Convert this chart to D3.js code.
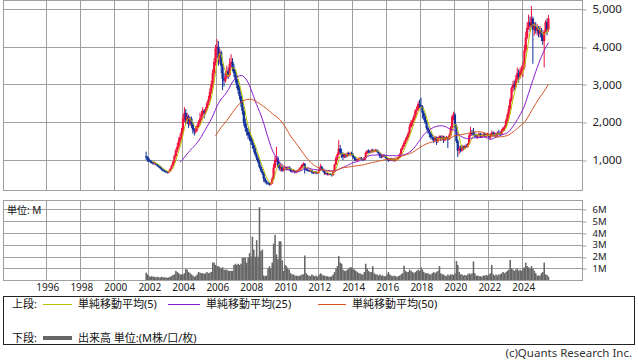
<!DOCTYPE html>
<html>
<head>
<meta charset="utf-8">
<script src="https://cdn.jsdelivr.net/npm/d3@7"></script>
<style>
body { margin: 0; background: #fff; }
text { font-family: "Noto Sans", "Noto Sans CJK JP", sans-serif; fill: #111; }
</style>
</head>
<body>
<div class="chart"></div>
<script>
// monthly candles, first bar = Nov 2001
var firstMonth = [2001, 10];

var open = [
  1100,1080,
  1020,980,950,930,900,920,880,850,820,780,740,720,
  700,690,670,700,760,850,950,1100,1250,1350,1500,1600,
  1750,2100,2250,2050,2150,1950,2100,1950,1800,1750,1800,1900,
  2000,2100,2200,2300,2250,2350,2500,2600,2800,3000,3300,3600,
  3950,4000,3700,3850,3500,3150,3100,3200,3350,3250,3550,3600,
  3450,3300,3150,3000,2850,2700,2500,2300,2000,1850,1750,1650,
  1600,1500,1400,1300,1150,1050,950,820,720,650,500,430,
  400,380,350,380,500,800,1000,1050,850,780,820,720,
  780,800,750,800,780,720,700,720,680,700,720,750,
  800,870,900,760,740,720,710,730,670,660,690,650,
  670,740,820,760,700,640,650,620,630,620,600,680,
  880,1050,1150,1300,1200,1150,1080,1150,1100,1180,1130,1170,
  1150,1080,1030,1000,1010,1040,1060,1020,1000,1060,1180,1240,
  1220,1200,1260,1230,1250,1260,1220,1180,1100,1080,1120,1100,
  1060,1010,990,1020,1000,1010,980,1010,1030,1070,1150,1290,
  1360,1450,1530,1610,1700,1880,1990,2050,2150,2300,2350,2480,
  2450,2420,2250,2150,2000,1850,1750,1700,1600,1580,1520,1600,
  1500,1580,1620,1560,1620,1520,1590,1600,1550,1650,1850,2150,
  2200,1900,1500,1250,1300,1250,1350,1300,1370,1350,1420,1650,
  1720,1700,1680,1650,1620,1650,1700,1620,1640,1690,1630,1650,
  1680,1600,1650,1720,1660,1700,1650,1720,1700,1680,1780,1850,
  1880,2050,2200,2350,2600,2900,3000,2950,3150,3300,3200,3350,
  3400,3450,3900,4250,4500,4650,4550,4750,4450,4550,4420,4500,
  4350,4450,4250,4150,4400,4650,4450
];
var high = [
  1220,1100,
  1060,1000,990,960,960,930,900,870,830,800,760,740,
  720,700,720,780,870,980,1150,1300,1450,1600,1700,1850,
  2200,2400,2350,2250,2200,2150,2150,2000,1850,1900,1950,2050,
  2250,2300,2400,2350,2400,2550,2700,2900,3100,3400,3700,4050,
  4200,4150,3950,3900,3550,3300,3350,3500,3450,3700,3800,3700,
  3550,3400,3250,3100,2950,2800,2600,2400,2100,1950,1850,1750,
  1650,1550,1450,1350,1200,1100,1000,870,760,680,540,460,
  430,400,420,560,900,1100,1350,1100,950,900,850,820,
  850,820,830,840,800,750,760,740,730,750,800,830,
  900,940,920,790,770,750,760,740,700,710,700,690,
  760,900,850,780,710,680,670,650,660,640,700,900,
  1100,1200,1530,1400,1300,1200,1180,1170,1200,1220,1200,1220,
  1180,1100,1060,1040,1060,1080,1080,1040,1080,1220,1270,1280,
  1260,1280,1300,1280,1290,1290,1250,1200,1150,1150,1150,1120,
  1080,1030,1050,1060,1040,1030,1030,1050,1090,1180,1320,1400,
  1500,1580,1650,1750,1950,2050,2100,2200,2350,2420,2550,2600,
  2650,2450,2300,2200,2050,1900,1800,1750,1680,1620,1640,1620,
  1620,1650,1650,1660,1640,1620,1640,1620,1700,1900,2200,2280,
  2250,1950,1550,1380,1380,1400,1380,1400,1420,1450,1700,1880,
  1800,1850,1750,1700,1680,1720,1720,1680,1720,1720,1700,1720,
  1700,1700,1780,1760,1740,1720,1760,1800,1760,1820,1880,1920,
  2100,2250,2450,2650,2950,3100,3100,3250,3450,3400,3450,3500,
  3600,4050,4400,4650,4850,4800,5080,4800,4650,4650,4600,4550,
  4550,4500,4350,4450,4700,4750,4840
];
var low = [
  1000,950,
  940,920,900,870,880,850,820,790,760,720,690,680,
  660,640,650,680,740,830,920,1050,1200,1300,1400,1550,
  1700,2000,1950,1950,1850,1900,1850,1700,1650,1700,1750,1850,
  1950,2050,2150,2100,2200,2300,2450,2550,2750,2900,3200,3500,
  3700,3500,3550,3300,2850,2950,3050,3150,3150,3200,3450,3350,
  3200,3050,2900,2750,2600,2400,2200,1900,1750,1650,1550,1500,
  1400,1300,1200,1100,1000,900,780,680,600,420,380,350,
  340,320,330,360,480,780,950,800,720,700,680,700,
  740,720,730,740,680,660,680,640,650,680,700,730,
  780,840,640,710,700,690,690,640,630,640,620,630,
  650,720,740,680,610,600,590,590,600,560,590,670,
  860,1000,1120,1150,1050,1000,1050,1050,1080,1100,1100,1120,
  1040,980,970,960,990,1010,1000,970,990,1000,1150,1180,
  1170,1190,1200,1200,1220,1200,1150,1050,1040,1060,1080,1040,
  980,950,970,980,970,950,960,990,1010,1060,1130,1260,
  1340,1420,1500,1580,1680,1850,1900,1980,2100,2200,2300,2380,
  2350,2100,2050,1950,1800,1700,1600,1550,1520,1450,1480,1400,
  1450,1550,1500,1540,1450,1500,1540,1320,1530,1620,1800,2050,
  1850,1450,1080,1150,1200,1220,1260,1280,1320,1330,1400,1620,
  1640,1650,1600,1580,1560,1620,1580,1580,1620,1600,1580,1620,
  1560,1560,1620,1620,1630,1600,1640,1680,1640,1660,1750,1780,
  1850,2000,2100,2300,2550,2800,2850,2900,3100,3050,3150,3250,
  3200,3400,3850,4200,4450,4400,4500,3550,4300,4350,4300,4250,
  4250,4150,4050,3450,4350,4300,4400
];
var close = [
  1080,1020,
  980,950,930,900,920,880,850,820,780,740,720,700,
  690,670,700,760,850,950,1100,1250,1350,1500,1600,1750,
  2100,2250,2050,2150,1950,2100,1950,1800,1750,1800,1900,2000,
  2100,2200,2300,2250,2350,2500,2600,2800,3000,3300,3600,3950,
  4000,3700,3850,3500,3150,3100,3200,3350,3250,3550,3600,3450,
  3300,3150,3000,2850,2700,2500,2300,2000,1850,1750,1650,1600,
  1500,1400,1300,1150,1050,950,820,720,650,500,430,400,
  380,350,380,500,800,1000,1050,850,780,820,720,780,
  800,750,800,780,720,700,720,680,700,720,750,800,
  870,900,760,740,720,710,730,670,660,690,650,670,
  740,820,760,700,640,650,620,630,620,600,680,880,
  1050,1150,1300,1200,1150,1080,1150,1100,1180,1130,1170,1150,
  1080,1030,1000,1010,1040,1060,1020,1000,1060,1180,1240,1220,
  1200,1260,1230,1250,1260,1220,1180,1100,1080,1120,1100,1060,
  1010,990,1020,1000,1010,980,1010,1030,1070,1150,1290,1360,
  1450,1530,1610,1700,1880,1990,2050,2150,2300,2350,2480,2450,
  2420,2250,2150,2000,1850,1750,1700,1600,1580,1520,1600,1500,
  1580,1620,1560,1620,1520,1590,1600,1550,1650,1850,2150,2200,
  1900,1500,1250,1300,1250,1350,1300,1370,1350,1420,1650,1720,
  1700,1680,1650,1620,1650,1700,1620,1640,1690,1630,1650,1680,
  1600,1650,1720,1660,1700,1650,1720,1700,1680,1780,1850,1880,
  2050,2200,2350,2600,2900,3000,2950,3150,3300,3200,3350,3400,
  3450,3900,4250,4500,4650,4550,4750,4450,4550,4420,4500,4350,
  4450,4250,4150,4400,4650,4450,4750
];
// volume in millions
var volume = [
  0.65,0.5,
  0.35,0.3,0.35,0.3,0.3,0.25,0.3,0.25,0.25,0.3,0.25,0.25,
  0.25,0.2,0.25,0.3,0.35,0.45,0.5,0.8,0.7,0.6,0.5,0.5,
  0.5,0.6,0.95,0.9,0.7,0.6,0.5,0.4,0.3,0.35,0.5,0.7,
  0.65,0.6,0.6,0.55,0.6,0.7,0.6,0.65,0.7,1.5,1.5,1.3,
  1.2,1.2,1.1,1.0,1.1,0.9,0.9,0.9,0.8,0.8,0.8,0.8,
  1.3,1.4,1.3,1.4,1.3,1.4,1.9,1.9,1.9,1.5,1.9,2.3,
  2.0,3.7,2.6,2.0,3.4,2.0,6.2,2.5,2.6,0.4,0.35,0.4,
  1.0,1.2,1.0,1.5,3.1,3.85,2.2,1.8,3.3,3.3,1.7,0.8,
  1.3,1.2,1.0,0.9,0.6,0.5,0.5,0.4,0.4,0.35,0.4,0.4,
  0.5,0.5,2.1,0.6,0.45,0.4,0.35,0.5,0.4,0.35,0.4,0.3,
  0.45,0.6,0.5,0.4,0.4,0.35,0.35,0.3,0.3,0.35,0.5,0.7,
  1.0,1.2,2.05,1.5,1.4,0.9,0.8,0.8,0.9,1.0,1.1,1.1,
  1.0,0.9,0.8,0.7,0.6,0.6,0.5,0.5,0.7,1.4,1.0,0.8,
  0.7,0.7,1.2,0.6,0.5,0.5,0.4,0.5,0.4,0.4,0.35,0.35,
  0.5,0.7,0.5,0.4,0.35,0.4,0.35,0.3,0.35,0.4,0.5,0.6,
  1.24,0.8,0.7,0.7,0.9,0.8,0.7,0.6,0.7,0.8,0.9,0.8,
  1.1,0.9,0.7,0.6,0.6,0.6,0.5,0.5,0.6,0.7,0.6,0.7,
  0.8,1.2,0.6,0.5,0.5,0.4,0.35,0.5,0.4,0.5,0.5,0.45,
  0.6,1.63,1.3,0.7,0.5,0.5,0.4,0.45,0.4,0.5,0.6,0.5,
  0.6,1.6,0.6,0.4,0.4,0.35,0.35,0.3,0.4,0.4,0.45,0.4,
  0.5,0.6,1.3,0.5,0.4,0.5,0.4,0.5,0.5,0.6,0.7,0.6,
  0.7,0.8,0.9,1.73,1.0,0.9,0.8,0.9,1.0,0.8,0.9,0.8,
  1.0,1.1,1.5,1.2,1.1,1.0,1.2,1.0,0.8,0.6,0.4,0.4,
  0.4,0.6,0.7,1.5,0.5,0.45,0.3
];

var priceTicks = [1000, 2000, 3000, 4000, 5000];
var volumeTicks = [1, 2, 3, 4, 5, 6];
var yearTicks = [1996, 1998, 2000, 2002, 2004, 2006, 2008, 2010, 2012, 2014, 2016, 2018, 2020, 2022, 2024];
var maPeriods = [5, 25, 50];
var maColors = ['#b8c000', '#8a1ccc', '#d8501c'];
var legendTop = ['単純移動平均(5)', '単純移動平均(25)', '単純移動平均(50)'];

var data = close.map(function(c, i) {
  return {
    date: new Date(firstMonth[0], firstMonth[1] + i, 15),
    o: open[i], h: high[i], l: low[i], c: c, v: volume[i]
  };
});

var svg = d3.select('.chart').append('svg')
  .attr('width', 638)
  .attr('height', 362);

var left = 3, right = 583;
var x = d3.scaleTime()
  .domain([new Date(1996, 0, 1), new Date(2024, 0, 1)])
  .range([46.3, 522.3]);
var y = d3.scaleLinear().domain([205, 5212]).range([190, 1]);
var yv = d3.scaleLinear().domain([0, 6.72]).range([280.3, 201]);

var gridColor = '#a0a0a0';
function crisp(v) { return Math.round(v) + 0.5; }

// clip
svg.append('clipPath').attr('id', 'clipTop').append('rect')
  .attr('x', left).attr('y', 1).attr('width', right - left).attr('height', 189);

// top panel grid
var topPanel = svg.append('g');
topPanel.selectAll('.vg').data(yearTicks).enter().append('line')
  .attr('x1', function(d) { return crisp(x(new Date(d, 0, 1))); })
  .attr('x2', function(d) { return crisp(x(new Date(d, 0, 1))); })
  .attr('y1', 1).attr('y2', 190)
  .style('stroke', gridColor);
topPanel.selectAll('.hg').data(priceTicks).enter().append('line')
  .attr('x1', left).attr('x2', right)
  .attr('y1', function(d) { return crisp(y(d)); })
  .attr('y2', function(d) { return crisp(y(d)); })
  .style('stroke', gridColor);
topPanel.append('rect')
  .attr('x', left + 0.5).attr('y', 0.5).attr('width', right - left - 1).attr('height', 190)
  .style('fill', 'none').style('stroke', gridColor);

var yAxis = svg.append('g')
  .attr('transform', 'translate(' + (right - 0.5) + ',0)')
  .call(d3.axisRight(y).tickValues(priceTicks).tickSize(4).tickPadding(6).tickFormat(d3.format(',')));
yAxis.select('.domain').remove();
yAxis.selectAll('line').attr('transform', function(d) { return 'translate(0,' + (crisp(y(d)) - y(d)) + ')'; })
  .style('stroke', gridColor);
yAxis.selectAll('text').style('font-size', '11.5px').style('fill', '#222');

// candles
var candles = svg.append('g').attr('clip-path', 'url(#clipTop)');
var bw = 2.2;
candles.selectAll('.wick').data(data).enter().append('line')
  .attr('x1', function(d) { return x(d.date); })
  .attr('x2', function(d) { return x(d.date); })
  .attr('y1', function(d) { return y(d.h); })
  .attr('y2', function(d) { return y(d.l); })
  .style('stroke', function(d) { return d.c >= d.o ? '#f0103c' : '#10309a'; })
  .style('stroke-width', 1);
candles.selectAll('.body').data(data).enter().append('rect')
  .attr('x', function(d) { return x(d.date) - bw / 2; })
  .attr('width', bw)
  .attr('y', function(d) { return y(Math.max(d.o, d.c)); })
  .attr('height', function(d) { return Math.max(1, Math.abs(y(d.o) - y(d.c))); })
  .style('fill', function(d) { return d.c >= d.o ? '#f0103c' : '#10309a'; });

// moving averages
maPeriods.forEach(function(n, k) {
  var pts = [];
  for (var i = n - 1; i < data.length; i++) {
    var s = 0;
    for (var j = i - n + 1; j <= i; j++) s += data[j].c;
    pts.push({ date: data[i].date, v: s / n });
  }
  candles.append('path')
    .datum(pts)
    .attr('d', d3.line().x(function(d) { return x(d.date); }).y(function(d) { return y(d.v); }))
    .style('fill', 'none')
    .style('stroke', maColors[k])
    .style('stroke-width', 1);
});

// volume panel
var vol = svg.append('g');
vol.selectAll('.vg').data(yearTicks).enter().append('line')
  .attr('x1', function(d) { return crisp(x(new Date(d, 0, 1))); })
  .attr('x2', function(d) { return crisp(x(new Date(d, 0, 1))); })
  .attr('y1', 201).attr('y2', 280)
  .style('stroke', gridColor);
vol.selectAll('.hg').data(volumeTicks).enter().append('line')
  .attr('x1', left).attr('x2', right)
  .attr('y1', function(d) { return crisp(yv(d)); })
  .attr('y2', function(d) { return crisp(yv(d)); })
  .style('stroke', gridColor);

var barW = x(new Date(2010, 1, 15)) - x(new Date(2010, 0, 15));
vol.selectAll('.bar').data(data).enter().append('rect')
  .attr('x', function(d) { return x(d.date) - barW / 2; })
  .attr('width', barW + 0.1)
  .attr('y', function(d) { return yv(d.v); })
  .attr('height', function(d) { return yv(0) - yv(d.v); })
  .style('fill', '#666');

vol.append('rect')
  .attr('x', left + 0.5).attr('y', 200.5).attr('width', right - left - 1).attr('height', 80)
  .style('fill', 'none').style('stroke', gridColor);

var vAxis = svg.append('g')
  .attr('transform', 'translate(' + (right - 0.5) + ',0)')
  .call(d3.axisRight(yv).tickValues(volumeTicks).tickSize(4).tickPadding(6).tickFormat(function(d) { return d + 'M'; }));
vAxis.select('.domain').remove();
vAxis.selectAll('line').attr('transform', function(d) { return 'translate(0,' + (crisp(yv(d)) - yv(d)) + ')'; })
  .style('stroke', gridColor);
vAxis.selectAll('text').style('font-size', '9.5px').style('fill', '#222');

svg.append('text').attr('x', 7).attr('y', 213.5)
  .style('font-size', '10px').text('単位: M');

// year labels
var xAxis = svg.append('g')
  .attr('transform', 'translate(1,280)')
  .call(d3.axisBottom(x).tickValues(yearTicks.map(function(d) { return new Date(d, 0, 1); }))
    .tickSize(0).tickPadding(4).tickFormat(d3.timeFormat('%Y')));
xAxis.select('.domain').remove();
xAxis.selectAll('text').style('font-size', '10px').style('fill', '#222');

// legend
var lg = svg.append('g');
lg.append('rect').attr('x', 3.5).attr('y', 296.5).attr('width', 631).attr('height', 48)
  .style('fill', 'none').style('stroke', '#222');
lg.append('text').attr('x', 12).attr('y', 308).style('font-size', '11px').text('上段:');
var legX = [43, 168, 318];
var legLen = [29, 32, 28];
legendTop.forEach(function(t, k) {
  lg.append('line').attr('x1', legX[k]).attr('x2', legX[k] + legLen[k]).attr('y1', 304.5).attr('y2', 304.5)
    .style('stroke', maColors[k]).style('stroke-width', 1);
  lg.append('text').attr('x', legX[k] + legLen[k] + 6).attr('y', 308).style('font-size', '11px').text(t);
});
lg.append('text').attr('x', 12).attr('y', 342).style('font-size', '11px').text('下段:');
lg.append('line').attr('x1', 43).attr('x2', 72).attr('y1', 338).attr('y2', 338)
  .style('stroke', '#666').style('stroke-width', 4);
lg.append('text').attr('x', 78).attr('y', 342).style('font-size', '11px').text('出来高 単位:(M株/口/枚)');

svg.append('text').attr('x', 632).attr('y', 357).attr('text-anchor', 'end')
  .style('font-size', '11.5px').style('fill', '#333').text('(c)Quants Research Inc.');
</script>
</body>
</html>
